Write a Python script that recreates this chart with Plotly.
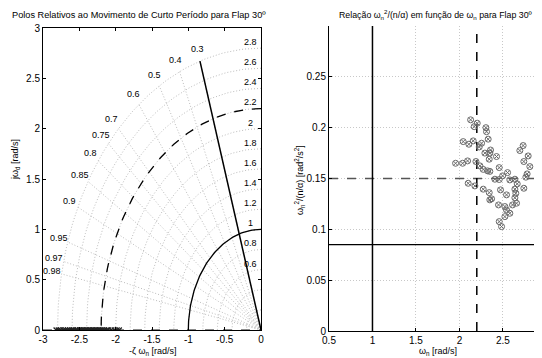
import numpy as np
import plotly.graph_objects as go

# ---------------- data ----------------
zeta_lines = [0.3, 0.4, 0.5, 0.6, 0.7, 0.75, 0.8, 0.85, 0.9, 0.95, 0.97, 0.98]
wn_circles = [0.2, 0.4, 0.6, 0.8, 1.0, 1.2, 1.4, 1.6, 1.8, 2.0, 2.2, 2.4, 2.6, 2.8]
wn_labels = [0.6, 0.8, 1.0, 1.2, 1.4, 1.6, 1.8, 2.0, 2.2, 2.4, 2.6, 2.8]
zeta_limit = 0.3
wn_min = 1.0
wn_design = 2.2
pole_real = [-2.82, -2.79, -2.76, -2.72, -2.69, -2.66, -2.63, -2.6, -2.58, -2.55,
             -2.53, -2.5, -2.48, -2.46, -2.44, -2.42, -2.4, -2.38, -2.36, -2.34,
             -2.32, -2.3, -2.28, -2.26, -2.24, -2.22, -2.2, -2.18, -2.15, -2.12,
             -2.1, -2.06, -2.02, -1.98, -1.95]

wn_pts = [2.129, 2.205, 2.170, 2.305, 2.331, 2.312, 2.044, 2.109, 2.159, 2.255,
          2.228, 2.358, 2.293, 2.350, 2.427, 2.343, 1.956, 2.037, 2.094, 2.190,
          2.236, 2.274, 2.324, 2.350, 2.458, 2.554, 2.497, 2.408, 2.458, 2.580,
          2.638, 2.695, 2.733, 2.791, 2.741, 2.810, 2.779, 2.764, 2.101, 2.178,
          2.274, 2.343, 2.370, 2.350, 2.473, 2.542, 2.638, 2.665, 2.649, 2.741,
          2.638, 2.657, 2.611, 2.523, 2.542, 2.580, 2.523, 2.458, 2.485, 2.450]
cap_pts = [0.2077, 0.2044, 0.2010, 0.2000, 0.1887, 0.1960, 0.1863, 0.1837, 0.1870, 0.1847,
           0.1810, 0.1780, 0.1750, 0.1750, 0.1716, 0.1690, 0.1650, 0.1650, 0.1673, 0.1667,
           0.1624, 0.1590, 0.1575, 0.1570, 0.1607, 0.1558, 0.1526, 0.1493, 0.1490, 0.1486,
           0.1493, 0.1775, 0.1824, 0.1722, 0.1667, 0.1617, 0.1545, 0.1513, 0.1453, 0.1427,
           0.1395, 0.1361, 0.1300, 0.1290, 0.1388, 0.1339, 0.1395, 0.1447, 0.1355, 0.1404,
           0.1310, 0.1257, 0.1240, 0.1224, 0.1190, 0.1158, 0.1125, 0.1076, 0.1027, 0.1240]
cap_min = 0.085
cap_design = 0.15

x1_ticks = [-3, -2.5, -2, -1.5, -1, -0.5, 0]
y1_ticks = [0, 0.5, 1, 1.5, 2, 2.5, 3]
x2_ticks = [0.5, 1, 1.5, 2, 2.5]
y2_ticks = [0, 0.05, 0.1, 0.15, 0.2, 0.25]

FONT = "Liberation Sans, Arial, sans-serif"
GRID = "#bdbdbd"
DOT = "1px,2px"

fig = go.Figure()

# ---------- left: s-plane grid ----------
for z in zeta_lines:
    r = np.array([0, 2.8])
    fig.add_trace(go.Scatter(x=-z * r, y=r * np.sqrt(1 - z**2), mode="lines",
                             line=dict(color=GRID, width=1, dash=DOT),
                             xaxis="x", yaxis="y", showlegend=False, hoverinfo="skip"))
    rl = 2.93
    fig.add_annotation(x=-z * rl, y=rl * np.sqrt(1 - z**2), text=str(z), showarrow=False,
                       xref="x", yref="y", xanchor="center", yanchor="middle",
                       font=dict(size=9, family=FONT, color="black"))
th = np.linspace(np.pi / 2, np.pi, 80)
for w in wn_circles:
    fig.add_trace(go.Scatter(x=w * np.cos(th), y=w * np.sin(th), mode="lines",
                             line=dict(color=GRID, width=1, dash=DOT),
                             xaxis="x", yaxis="y", showlegend=False, hoverinfo="skip"))
for w in wn_labels:
    fig.add_annotation(x=-0.14, y=w + 0.06, text=f"{w:g}", showarrow=False,
                       xref="x", yref="y", xanchor="center", yanchor="middle",
                       font=dict(size=9, family=FONT, color="black"))

# real-axis dashed
fig.add_trace(go.Scatter(x=[-3, 0], y=[0, 0], mode="lines",
                         line=dict(color="#666", width=1.3, dash="dash"),
                         xaxis="x", yaxis="y", showlegend=False))
# zeta limit line
rr = np.array([0, 2.8])
fig.add_trace(go.Scatter(x=-zeta_limit * rr, y=rr * np.sqrt(1 - zeta_limit**2), mode="lines",
                         line=dict(color="black", width=1.5),
                         xaxis="x", yaxis="y", showlegend=False))
# wn circles
fig.add_trace(go.Scatter(x=wn_min * np.cos(th), y=wn_min * np.sin(th), mode="lines",
                         line=dict(color="black", width=1.3),
                         xaxis="x", yaxis="y", showlegend=False))
fig.add_trace(go.Scatter(x=wn_design * np.cos(th), y=wn_design * np.sin(th), mode="lines",
                         line=dict(color="black", width=1.3, dash="dash"),
                         xaxis="x", yaxis="y", showlegend=False))
# poles
fig.add_trace(go.Scatter(x=pole_real, y=[0] * len(pole_real), mode="markers",
                         marker=dict(symbol="x-thin", size=5, color="#222",
                                     line=dict(width=1.3, color="#222")),
                         xaxis="x", yaxis="y", showlegend=False))

# ---------- right ----------
fig.add_trace(go.Scatter(x=[0.5, 2.95], y=[cap_design, cap_design], mode="lines",
                         line=dict(color="#555", width=1.3, dash="dash"),
                         xaxis="x2", yaxis="y2", showlegend=False))
fig.add_trace(go.Scatter(x=[0.5, 2.95], y=[cap_min, cap_min], mode="lines",
                         line=dict(color="black", width=1.2),
                         xaxis="x2", yaxis="y2", showlegend=False))
fig.add_trace(go.Scatter(x=[wn_min, wn_min], y=[0, 0.3], mode="lines",
                         line=dict(color="black", width=1.5),
                         xaxis="x2", yaxis="y2", showlegend=False))
fig.add_trace(go.Scatter(x=[wn_design, wn_design], y=[0, 0.3], mode="lines",
                         line=dict(color="black", width=1.5, dash="dash"),
                         xaxis="x2", yaxis="y2", showlegend=False))
fig.add_trace(go.Scatter(x=wn_pts, y=cap_pts, mode="markers",
                         marker=dict(symbol="circle-x-open", size=6, color="#6a6a6a",
                                     line=dict(width=1, color="#6a6a6a")),
                         xaxis="x2", yaxis="y2", showlegend=False))

W, H = 542, 358
OFF = 8  # page body margin offset


def fx(px):
    return (px - OFF) / W


def fy(py):
    return 1 - (py - OFF) / H


axis_common = dict(showline=True, linecolor="black", linewidth=1, ticks="inside",
                   ticklen=3, tickcolor="black", zeroline=False, automargin=False,
                   tickfont=dict(size=10, family=FONT, color="black"))
fig.update_layout(
    template="none",
    width=W, height=H, margin=dict(l=0, r=0, t=0, b=0, pad=0),
    paper_bgcolor="white", plot_bgcolor="white",
    xaxis=dict(domain=[fx(43), fx(261)], range=[-3, 0], tickvals=x1_ticks,
               ticktext=[f"{v:g}" for v in x1_ticks], showgrid=False, mirror="ticks",
               anchor="y", **axis_common),
    yaxis=dict(domain=[fy(330), fy(28)], range=[0, 3], tickvals=y1_ticks,
               ticktext=[f"{v:g}" for v in y1_ticks], showgrid=False, mirror="ticks",
               anchor="x", **axis_common),
    xaxis2=dict(domain=[fx(329), fx(542)], range=[0.5, 2.95], tickvals=x2_ticks,
                ticktext=[f"{v:g}" for v in x2_ticks], showgrid=True, gridcolor="#c8c8c8",
                griddash=DOT, anchor="y2", **axis_common),
    yaxis2=dict(domain=[fy(331), fy(26)], range=[0, 0.3], tickvals=y2_ticks,
                ticktext=[f"{v:g}" for v in y2_ticks], showgrid=True, gridcolor="#c8c8c8",
                griddash=DOT, anchor="x2", **axis_common),
)


def ann(x, y, text, size=9, angle=0):
    fig.add_annotation(x=fx(x), y=fy(y), xref="paper", yref="paper", text=text,
                       showarrow=False, textangle=angle, xanchor="center", yanchor="middle",
                       font=dict(size=size, family=FONT, color="black"))


ann(139, 15, "Polos Relativos ao Movimento de Curto Período para Flap 30º", 9.2)
ann(436, 15, "Relação ω<sub>n</sub><sup>2</sup>/(n/α) em função de ω<sub>n</sub> para Flap 30º", 8.8)
ann(153, 351, "-ζ ω<sub>n</sub> [rad/s]", 9)
ann(438, 351, "ω<sub>n</sub> [rad/s]", 9)
ann(15, 160, "jω<sub>d</sub> [rad/s]", 9, -90)
ann(299, 180, "ω<sub>n</sub><sup>2</sup>/(n/α) [rad<sup>2</sup>/s<sup>2</sup>]", 9, -90)

fig.write_html("out.html")
